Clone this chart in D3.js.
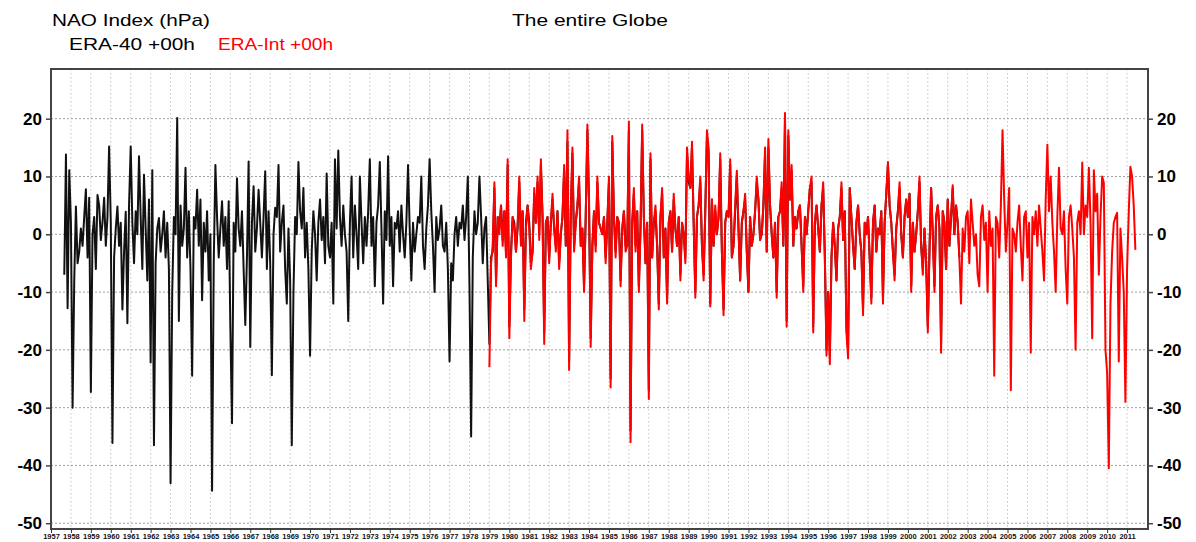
<!DOCTYPE html>
<html>
<head>
<meta charset="utf-8">
<script src="https://cdn.jsdelivr.net/npm/d3@7"></script>
<style>
  body { margin: 0; background: #fff; }
  svg { display: block; }
</style>
</head>
<body>
<svg id="chart" width="1196" height="542"></svg>
<script>
// ERA-40 monthly NAO index (hPa), starts Sep 1957, one row per year
const era40Start = [1957, 9];
const era40Rows = [
  [-7, 13.8, -12.8, 11.1],
  [2, -30, -8, 4.8, -5, -3, 1, -2, 3, 7.8, -4, 6.3],
  [-27.3, 0, 3, -6, 6.8, 5, -1, 2, 6.3, -2, 3, 15.2],
  [2, -36.1, -4, 1, 4.8, -2, 2, -13, -3, 3.9, -15.4, 5],
  [15.2, 2, -5, 4, 0, 13.5, 3, -6, 10.3, 1, -8, 6],
  [-22.2, 11.1, -36.5, -5, 1, 2.8, -3, 0, 4, -4, 2, -6],
  [-43.1, -10, 3, 0, 20.1, -15, 5, -2, 1, 11.5, -4, 4],
  [-6, -24.5, 3, 1, 7.7, -2, 6, -11.4, 2, -3, 4, -8],
  [0, -44.4, -5, 12, 3, -4, 1, 5.7, -2, 3, -6, 5.7],
  [-16, -32.7, 2, -3, 9.7, 1, -2, 4, -6, -15.7, -4, 12.6],
  [-19.5, 2, 8.3, -3, 1, 7.7, 2, -4, 3, 10.9, -6, 4],
  [-5, -24.4, 0, 4.6, 3, 12, -3, 2, 5, -6, -12, 1],
  [-8, -36.5, -10, 3, 0, 12.5, 4, 1, 8, -4, 2, -6],
  [-21, -3, 4, 0, -8, 2, 6, -1, 3, -5, 10.5, -2],
  [-4, 2, -12, 13, 1, 14.5, 3, -2, 5, 0, -3, -15],
  [2, 10, -4, 5, 0, -6, 10, 2, -5, 3, -2, 4],
  [13, -2, 3, -9, 2, 5, 12.5, 1, -12, 4, -1, 13.5],
  [-2, 3, -9, 2, 1, 4, -3, 5, 0, -4, 2, 12],
  [1, -8, 2, -3, 0, 3, 2, 10, -2, -6, 1, 5],
  [13, 4, -2, -10, 3, -1, 1, 5, -2, -3, 2, -6],
  [-22, -5, -8, 0, 3, -2, 2, 1, 5, -1, 3, 10],
  [-9, -35, -4, 4, 0, 2, 10, 3, -5, 1, 3, -8],
  [-19, -4, -3, 8, -8, 3, 1, 5, -1, 4, -3, 12],
  [-16, -3, 3, 2, -3, 1, 9, -1, 4, -13, 2, 5],
  [2, -5, -3, 7, 2, 9, 0, 12, 3, -17, 2, 3],
  [-4, 2, 6, 1, -2, 4, -5, 0, 3, 11, -2, 16],
  [-22, 4, 14, -2, 2, 5, 9, -2, 1, -9, 3, 18],
  [5, -18, -2, 4, -2, 9, 2, 1, 0, 3, -4, 2],
  [9, -25, 16, 3, -3, 3, 2, -8, 1, 4, -2, -2],
  [18, -34, 2, 7, -2, 4, -9, 1, 18, 3, -5, 2],
  [-27, 13, -4, 2, 4, -2, -12, 3, 7, -4, 1, -11],
  [2, 4, -3, 6, 1, -2, 3, -7, 2, 0, -4, 14],
  [9, 8, 15, 2, -10, 3, 5, 9, -2, -7, 4, 17],
  [14, -12, 6, -2, 4, 0, 3, 13, -3, -13, 2, 4],
  [3, 12, -4, -2, 4, 10, 1, -8, 2, 4, 6, -3],
  [-10, 3, -2, 0, 4, 9, 6, -1, 0, 5, 14, -3],
  [15, 5, 0, -4, 2, -10, 3, 4, 8, -2, 20, -15],
  [17, 6, 11, -2, 3, 1, 4, 5, -2, -9, 3, 0],
  [4, 8, 9, -16, 2, 5, 1, -3, 5, 8, -4, -20],
  [-10, -21, -4, 2, -2, -8, 1, 3, 8, -1, 4, -16],
  [-20, 8, 3, -2, -6, 2, 5, 0, -3, -13, 2, 0],
  [3, -4, -11, 2, 5, -3, 1, 0, 4, -11, 2, 7],
  [12, 5, 2, -3, -7, 1, 4, 8, 0, -4, 3, 6],
  [3, 7, -9, 2, -3, 0, 4, 9, -2, -6, 1, -5],
  [-16, -3, 8, 0, -9, 3, 5, 1, -19, 4, 2, -6],
  [6, -2, 3, 8, 0, 5, 2, -4]
];

// ERA-Interim monthly NAO index (hPa), starts Jan 1979
const eraIntStart = [1979, 1];
const eraIntRows = [
  [-23, -5, -2, 9, -9, 3, 0, 5, -2, 4, -4, 13],
  [-18, -4, 3, 1, -3, 2, 10, -2, 4, -15, 1, 5],
  [1, -6, -3, 8, 2, 10, -1, 13, 3, -19, 2, 3],
  [-5, 2, 7, 1, -3, 4, -6, 0, 3, 12, -2, 18],
  [-23.5, 4, 15, -3, 2, 5, 10, -2, 1, -10, 3, 19],
  [6, -19.5, -2, 4, -3, 10, 2, 1, 0, 3, -5, 2],
  [10, -26.5, 17, 3, -4, 3, 2, -9, 1, 4, -3, -2],
  [19.5, -36, 2, 8, -3, 4, -10, 1, 19, 3, -5, 2],
  [-28.5, 14, -4, 2, 5, -2, -13, 3, 8, -4, 1, -12],
  [2, 4, -3, 7, 1, -2, 3, -8, 2, 0, -5, 15],
  [10, 8, 16, 2, -11, 3, 5, 10, -2, -8, 4, 18],
  [15, -12.5, 6, -2, 5, 0, 3, 14, -3, -14, 2, 4],
  [3, 13, -4, -2, 5, 11, 1, -8, 2, 4, 7, -3],
  [-10, 3, -2, 0, 4, 10, 6, -1, 0, 5, 15, -3],
  [16.5, 5, 0, -4, 2, -11, 3, 4, 9, -2, 21, -16],
  [18, 6, 12, -2, 3, 1, 4, 5, -2, -10, 3, 0],
  [4, 8, 10, -17, 2, 5, 1, -3, 5, 9, -4, -21],
  [-10, -22.5, -4, 2, -2, -8, 1, 3, 9, -1, 4, -17],
  [-21.5, 8, 3, -2, -6, 2, 5, 0, -3, -14, 2, 0],
  [3, -4, -12, 2, 5, -3, 1, 0, 4, -12, 2, 7],
  [12.5, 5, 2, -3, -8, 1, 4, 9, 0, -4, 3, 6],
  [3, 7, -10, 2, -3, 0, 4, 10, -2, -7, 1, -5],
  [-17, -3, 8, 0, -10, 3, 5, 1, -20.5, 4, 2, -6],
  [6, -2, 3, 8.5, 0, 5, 2, -4, -12, 1, -3, 3],
  [4, -5, 6, 2, -2, 0, -7, -9, 3, 5, -1, 2],
  [-10, 4, -2, 1, -24.5, 3, 2, -4, 5, 18, 6, -3],
  [2, 8, -27, 1, 0, -3, 2, 5, -2, -8, 3, 4],
  [-4, 2, -20.5, 3, 0, 4, -2, 5, 1, -3, -8, 6],
  [15.5, 4, 10, 2, -3, -10, 3, 11.5, 1, 0, 4, -6],
  [-12, 3, 5, 1, -4, -20, 2, 4, 0, 12.4, 0, 5],
  [3, 11.5, 2, -18, 11.1, 4, 7, -7, 3, 10, 8.9, -20],
  [-24, -40.5, -12, -3, 2, 3, 3.7, -22, 1, -4, -10, -29],
  [-6, 3.7, 11.7, 10, 5, -2.7]
];

const yearTicks = d3.range(1957, 2012);
const valueTicks = [20, 10, 0, -10, -20, -30, -40, -50];

function toSeries(start, rows) {
  const out = [];
  let yr = start[0], m = start[1] - 1;
  rows.flat().forEach(v => {
    out.push({ t: yr + m / 12, v: v });
    m++;
    if (m === 12) { m = 0; yr++; }
  });
  return out;
}

const era40 = toSeries(era40Start, era40Rows);
const eraInt = toSeries(eraIntStart, eraIntRows);

const FONT = "'Liberation Sans', Arial, Helvetica, sans-serif";
const plotL = 51, plotR = 1148, plotT = 69, plotB = 529;

const x = d3.scaleLinear().domain([1957, 2012.05]).range([plotL, plotR]);
const y = d3.scaleLinear().domain([-51, 28.6]).range([plotB, plotT]);

const svg = d3.select("#chart").style("font-family", FONT);

// grid
svg.append("g")
  .selectAll("line")
  .data(yearTicks.slice(1))
  .join("line")
  .attr("x1", d => x(d)).attr("x2", d => x(d))
  .attr("y1", plotT).attr("y2", plotB)
  .attr("stroke", "#c4c4c4")
  .attr("stroke-width", 1)
  .attr("stroke-dasharray", "1.5,2.5");

svg.append("g")
  .selectAll("line")
  .data(valueTicks)
  .join("line")
  .attr("x1", plotL).attr("x2", plotR)
  .attr("y1", d => y(d)).attr("y2", d => y(d))
  .attr("stroke", "#a0a0a0")
  .attr("stroke-width", 1)
  .attr("stroke-dasharray", "2,2");

// series
const line = d3.line().x(d => x(d.t)).y(d => y(d.v));

svg.append("path")
  .datum(era40)
  .attr("fill", "none")
  .attr("stroke", "#111")
  .attr("stroke-width", 2)
  .attr("stroke-linejoin", "round")
  .attr("d", line);

svg.append("path")
  .datum(eraInt)
  .attr("fill", "none")
  .attr("stroke", "#ff0000")
  .attr("stroke-width", 2)
  .attr("stroke-linejoin", "round")
  .attr("d", line);

// frame
svg.append("rect")
  .attr("x", plotL).attr("y", plotT)
  .attr("width", plotR - plotL).attr("height", plotB - plotT)
  .attr("fill", "none")
  .attr("stroke", "#444")
  .attr("stroke-width", 2);

// axes
const yl = svg.append("g")
  .attr("transform", `translate(${plotL},0)`)
  .call(d3.axisLeft(y).tickValues(valueTicks).tickSize(5).tickPadding(4).tickFormat(d3.format("d")));
const yrAxis = svg.append("g")
  .attr("transform", `translate(${plotR},0)`)
  .call(d3.axisRight(y).tickValues(valueTicks).tickSize(5).tickPadding(4).tickFormat(d3.format("d")));
[yl, yrAxis].forEach(g => {
  g.select(".domain").remove();
  g.selectAll(".tick line").attr("stroke", "#444").attr("stroke-width", 1.5);
  g.selectAll("text")
    .attr("fill", "#000")
    .style("font-family", FONT)
    .style("font-size", "17px")
    .style("font-weight", "bold")
    .text(d => String(d));
});

const xb = svg.append("g")
  .attr("transform", `translate(0,${plotB})`)
  .call(d3.axisBottom(x).tickValues(yearTicks).tickSize(4).tickPadding(1).tickFormat(d3.format("d")));
xb.select(".domain").remove();
xb.selectAll(".tick line").attr("stroke", "#333").attr("stroke-width", 1);
xb.selectAll("text")
  .attr("fill", "#111")
  .style("font-family", FONT)
  .style("font-size", "7.5px")
  .style("font-weight", "bold");

// titles
function label(txt, px, py, width, color) {
  svg.append("text")
    .attr("x", px).attr("y", py)
    .attr("fill", color)
    .style("font-size", "17px")
    .attr("textLength", width)
    .attr("lengthAdjust", "spacingAndGlyphs")
    .text(txt);
}
label("NAO Index (hPa)", 52, 26, 158, "#000");
label("ERA-40 +00h", 69, 50, 126, "#000");
label("ERA-Int +00h", 218, 50, 115, "#ff0000");
label("The entire Globe", 512, 26, 156, "#000");
</script>
</body>
</html>
